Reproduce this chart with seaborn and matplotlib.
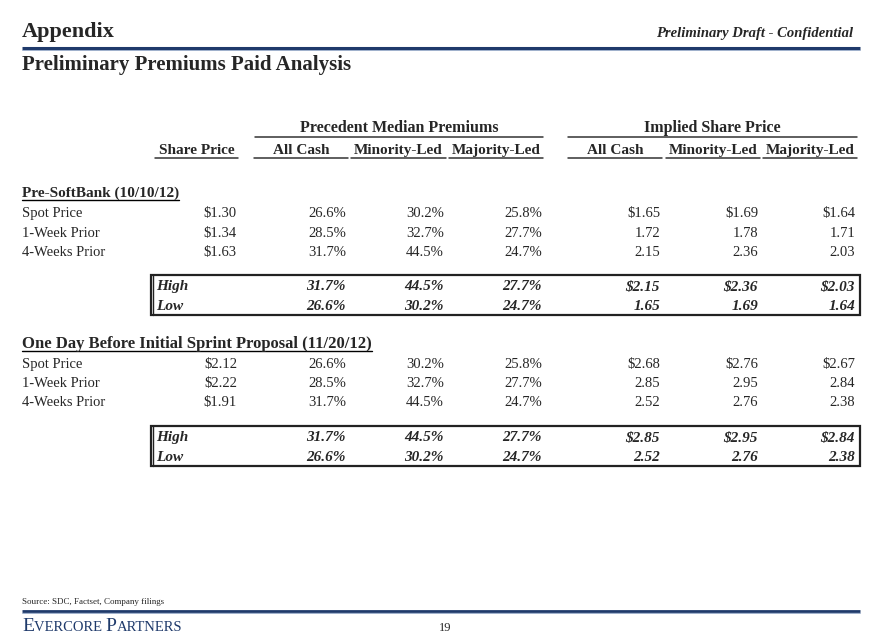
import matplotlib
matplotlib.use("Agg")
import matplotlib.pyplot as plt
import seaborn as sns
from matplotlib.patches import Rectangle

sns.set_theme(style="white")
plt.rcParams['font.family'] = ['Liberation Serif', 'DejaVu Serif']

# ---------------- data ----------------
group_headers = ["Precedent Median Premiums", "Implied Share Price"]
col_headers = ["Share Price", "All Cash", "Minority-Led", "Majority-Led",
               "All Cash", "Minority-Led", "Majority-Led"]
row_labels = ["Spot Price", "1-Week Prior", "4-Weeks Prior"]

sec1_title = "Pre-SoftBank (10/10/12)"
sec1_share = [1.30, 1.34, 1.63]
sec1_prem_cash = [26.6, 28.5, 31.7]
sec1_prem_min = [30.2, 32.7, 44.5]
sec1_prem_maj = [25.8, 27.7, 24.7]
sec1_impl_cash = [1.65, 1.72, 2.15]
sec1_impl_min = [1.69, 1.78, 2.36]
sec1_impl_maj = [1.64, 1.71, 2.03]

sec2_title = "One Day Before Initial Sprint Proposal (11/20/12)"
sec2_share = [2.12, 2.22, 1.91]
sec2_prem_cash = [26.6, 28.5, 31.7]
sec2_prem_min = [30.2, 32.7, 44.5]
sec2_prem_maj = [25.8, 27.7, 24.7]
sec2_impl_cash = [2.68, 2.85, 2.52]
sec2_impl_min = [2.76, 2.95, 2.76]
sec2_impl_maj = [2.67, 2.84, 2.38]

# ---------------- layout ----------------
W, H = 880, 639
fig = plt.figure(figsize=(W / 100, H / 100), dpi=100)
ax = fig.add_axes([0, 0, 1, 1])
ax.set_xlim(0, W)
ax.set_ylim(H, 0)
ax.axis("off")

NAVY = "#1f3a6b"
BODY = 10.5
col_right = [237, 346, 444, 542, 660, 758, 855]
col_span = [(155, 238), (254, 348), (351, 446), (449, 543),
            (568, 662), (666, 760), (763, 857)]
grp_span = [(255, 543), (568, 857)]

# header
ax.text(22, 37, "Appendix", fontsize=16, fontweight="bold", va="baseline")
ax.text(853, 37, "Preliminary Draft - Confidential", fontsize=10.5,
        fontweight="bold", style="italic", ha="right", va="baseline")
ax.plot([22, 860], [47.5, 47.5], color=NAVY, lw=2.2, solid_capstyle="butt")
ax.plot([22, 860], [49.5, 49.5], color="#8fa3c4", lw=0.6)
ax.text(22, 70, "Preliminary Premiums Paid Analysis", fontsize=15,
        fontweight="bold", va="baseline")

# group headers
for txt, (a, b) in zip(group_headers, grp_span):
    ax.text((a + b) / 2, 132, txt, fontsize=11.5, fontweight="bold",
            ha="center", va="baseline")
    ax.plot([a, b], [136.5, 136.5], color="#333333", lw=1.1)

for txt, (a, b) in zip(col_headers, col_span):
    ax.text((a + b) / 2, 154, txt, fontsize=11, fontweight="bold",
            ha="center", va="baseline")
    ax.plot([a, b], [158, 158], color="#333333", lw=1.1)


def fmt_pct(v):
    return f"{v:.1f}%"


def draw_section(y_title, title, tsize, share, pc, pm, pj, ic, im, ij, y_rows, box_top):
    t = ax.text(22, y_title, title, fontsize=tsize, fontweight="bold", va="baseline")
    fig.canvas.draw()
    bb = t.get_window_extent(fig.canvas.get_renderer())
    ax.plot([22, 22 + bb.width], [y_title + 3, y_title + 3], color="black", lw=1.0)
    for i, lab in enumerate(row_labels):
        y = y_rows[i]
        vals = [f"${share[i]:.2f}", fmt_pct(pc[i]), fmt_pct(pm[i]), fmt_pct(pj[i])]
        if i == 0:
            vals += [f"${ic[i]:.2f}", f"${im[i]:.2f}", f"${ij[i]:.2f}"]
        else:
            vals += [f"{ic[i]:.2f}", f"{im[i]:.2f}", f"{ij[i]:.2f}"]
        ax.text(22, y, lab, fontsize=BODY, va="baseline")
        for xr, v in zip(col_right, vals):
            ax.text(xr, y, v, fontsize=BODY, ha="right", va="baseline")
    # high / low box
    ax.add_patch(Rectangle((151, box_top), 709, 40, fill=False,
                           edgecolor="#222222", lw=1.6))
    ax.plot([152.5, 152.5], [box_top, box_top + 40], color="#222222", lw=1.0)
    hl = [("High", [max(pc), max(pm), max(pj)], [max(ic), max(im), max(ij)], True),
          ("Low", [min(pc), min(pm), min(pj)], [min(ic), min(im), min(ij)], False)]
    for k, (lab, prem, impl, dollar) in enumerate(hl):
        y = box_top + 15 + k * 20
        ax.text(156, y, lab, fontsize=BODY + 0.5, fontweight="bold",
                style="italic", va="baseline")
        vals = [fmt_pct(v) for v in prem]
        vals += [(f"${v:.2f}" if dollar else f"{v:.2f}") for v in impl]
        for xr, v in zip(col_right[1:], vals):
            ax.text(xr, y, v, fontsize=BODY + 0.5, fontweight="bold",
                    style="italic", ha="right", va="baseline")


draw_section(197, sec1_title, 11, sec1_share, sec1_prem_cash, sec1_prem_min,
             sec1_prem_maj, sec1_impl_cash, sec1_impl_min, sec1_impl_maj,
             [217, 237, 256], 275)
draw_section(348, sec2_title, 12, sec2_share, sec2_prem_cash, sec2_prem_min,
             sec2_prem_maj, sec2_impl_cash, sec2_impl_min, sec2_impl_maj,
             [368, 387, 406], 426)

# footer
ax.text(22, 604, "Source: SDC, Factset, Company filings", fontsize=6.5,
        va="baseline")
ax.plot([22, 860], [611, 611], color=NAVY, lw=2.0, solid_capstyle="butt")
ax.plot([22, 860], [613, 613], color="#8fa3c4", lw=0.6)

renderer = fig.canvas.get_renderer()
x = 22
for part, size in [("E", 14), ("VERCORE ", 10.5), ("P", 14), ("ARTNERS", 10.5)]:
    t = ax.text(x, 631, part, fontsize=size, color=NAVY, va="baseline")
    fig.canvas.draw()
    x += t.get_window_extent(renderer).width
ax.text(445, 631, "19", fontsize=9, va="baseline", ha="center")

fig.savefig("out.png", dpi=100)
